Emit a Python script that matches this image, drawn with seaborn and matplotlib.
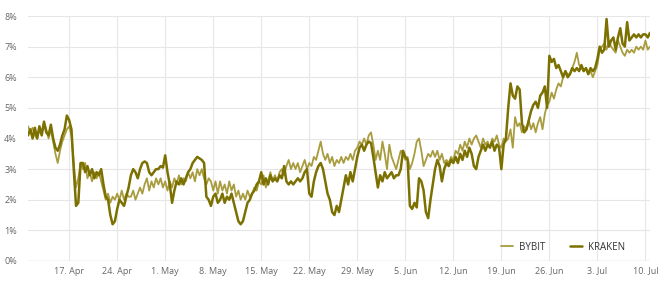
import matplotlib
matplotlib.use("Agg")
import matplotlib.pyplot as plt
import matplotlib.dates as mdates
from matplotlib.ticker import FuncFormatter
import numpy as np
import pandas as pd
import seaborn as sns

start_date = "2023-04-11"
step = "8h"

bybit = [
    4.4, 4.2, 4.35, 4.1, 4.0, 4.3, 4.2, 4.5, 4.3, 4.0, 4.3, 3.9,
    3.5, 3.2, 3.6, 3.9, 4.1, 4.3, 4.4, 4.1, 3.2, 2.4, 2.7, 3.2,
    3.0, 3.2, 2.7, 2.9, 2.6, 2.9, 2.7, 2.9, 2.6, 2.3, 2.0, 2.2,
    1.9, 2.1, 2.0, 2.2, 2.0, 2.3, 2.0, 2.2, 2.1, 2.1, 2.3, 2.0,
    2.2, 2.4, 2.2, 2.5, 2.7, 2.3, 2.6, 2.4, 2.7, 2.5, 2.7, 2.4,
    2.6, 2.3, 2.6, 2.4, 2.7, 2.5, 2.8, 2.5, 2.7, 2.6, 2.9, 2.7,
    2.9, 2.6, 3.0, 2.8, 3.0, 2.7, 2.5, 2.7, 2.6, 2.3, 2.6, 2.2,
    2.6, 2.3, 2.5, 2.2, 2.6, 2.3, 2.5, 2.1, 2.3, 2.0, 2.2, 2.0,
    2.3, 2.1, 2.2, 2.4, 2.3, 2.6, 2.5, 2.8, 2.4, 2.6, 2.9, 2.6,
    2.8, 2.6, 2.9, 3.0, 2.8, 3.1, 3.3, 3.0, 3.2, 3.0, 3.2, 2.9,
    3.1, 3.3, 3.0, 3.2, 3.1, 3.4, 3.3, 3.6, 3.9, 3.5, 3.3, 3.5,
    3.2, 3.4, 3.1, 3.3, 3.2, 3.4, 3.2, 3.4, 3.3, 3.5, 3.3, 3.6,
    3.7, 3.9, 3.8, 4.0, 3.8, 4.1, 4.2, 3.8, 3.3, 3.6, 3.3, 3.9,
    3.5, 3.0, 3.8, 3.4, 3.2, 3.0, 3.3, 3.6, 3.5, 3.3, 3.4, 3.0,
    3.2, 3.5, 3.9, 4.0, 3.6, 3.1, 3.3, 3.5, 3.4, 3.6, 3.4, 3.6,
    3.3, 3.5, 3.2, 3.3, 3.2, 3.4, 3.3, 3.6, 3.5, 3.8, 3.6, 3.9,
    3.7, 4.0, 3.8, 4.0, 4.1, 3.9, 3.7, 4.0, 3.8, 3.9, 3.7, 4.0,
    3.9, 4.1, 3.8, 3.7, 4.0, 3.9, 4.0, 4.3, 3.7, 4.7, 4.4, 4.5,
    4.2, 4.4, 4.3, 4.6, 4.3, 4.5, 4.2, 4.5, 4.7, 4.3, 4.8, 5.1,
    5.2, 5.5, 5.3, 5.6, 5.8, 5.7, 6.0, 6.2, 6.1, 6.1, 6.3, 6.5,
    6.8, 6.4, 6.3, 6.2, 6.3, 6.1, 6.2, 6.0, 6.2, 6.4, 6.9, 7.0,
    7.1, 6.9, 7.2, 7.0, 6.9, 6.8, 7.2, 7.0, 6.8, 6.7, 6.9, 6.8,
    6.9, 6.8, 7.0, 6.9, 7.0, 6.9, 7.2, 6.9, 7.0,
]

kraken = [
    4.1, 4.3, 4.0, 4.35, 4.0, 4.4, 4.1, 4.55, 4.2, 4.1, 4.45, 4.0,
    3.7, 3.6, 3.8, 4.1, 4.3, 4.75, 4.6, 4.3, 3.0, 1.8, 1.9, 3.2,
    3.2, 2.9, 3.1, 2.8, 3.0, 2.7, 2.9, 2.8, 3.0, 2.5, 2.1, 2.0,
    1.5, 1.2, 1.3, 1.7, 2.0, 1.9, 1.8, 2.1, 2.4, 2.8, 3.0, 2.9,
    2.7, 3.0, 3.2, 3.25, 3.2, 2.9, 2.8, 2.9, 3.0, 3.0, 3.1, 3.05,
    3.45, 2.9, 2.5, 1.9, 2.3, 2.6, 2.5, 2.7, 2.5, 2.7, 2.9, 3.0,
    3.2, 3.3, 3.4, 3.35, 3.3, 3.2, 2.1, 2.0, 1.8, 2.1, 2.2, 1.9,
    2.0, 2.2, 1.9, 2.1, 2.0, 2.2, 1.9, 1.6, 1.3, 1.2, 1.3, 1.6,
    1.9, 2.0, 2.2, 2.3, 2.5, 2.6, 2.9, 2.5, 2.7, 2.5, 2.8, 2.6,
    2.7, 2.6, 2.8, 2.7, 3.1, 2.6, 2.5, 2.6, 2.5, 2.6, 2.7, 2.6,
    2.7, 2.9, 3.0, 2.2, 2.1, 2.6, 2.9, 3.1, 3.2, 3.0, 2.6, 2.2,
    2.0, 1.6, 1.5, 1.8, 1.6, 2.0, 2.4, 2.8, 2.5, 2.9, 2.6, 3.0,
    3.4, 3.7, 3.8, 3.6, 3.8, 3.9, 3.85, 3.4, 2.9, 2.4, 2.8, 2.6,
    2.9, 2.7, 2.8, 2.9, 2.7, 2.8, 2.8, 3.0, 3.6, 3.4, 3.3, 1.8,
    1.7, 1.9, 1.75, 2.7, 2.6, 2.3, 1.6, 1.4, 2.0, 2.5, 3.0, 3.3,
    3.1, 2.6, 3.0, 3.2, 3.1, 3.3, 3.2, 3.4, 3.2, 3.5, 3.3, 3.6,
    3.4, 3.7, 3.5, 3.1, 3.0, 3.4, 3.6, 3.8, 3.6, 3.8, 3.7, 3.9,
    3.6, 3.8, 3.7, 3.0, 3.8, 4.0, 5.0, 5.8, 5.4, 5.3, 5.7, 5.6,
    4.5, 4.2, 4.3, 4.6, 4.9, 5.1, 5.2, 5.0, 5.4, 5.5, 5.7, 5.0,
    6.7, 6.5, 6.6, 6.3, 6.4, 6.2, 6.0, 6.2, 6.0, 6.1, 6.3, 6.2,
    6.3, 6.2, 6.4, 6.2, 6.3, 6.1, 6.3, 6.2, 6.3, 6.6, 7.0, 6.8,
    6.9, 7.9, 7.0, 7.2, 7.3, 6.9, 7.3, 7.6, 7.1, 7.0, 7.8, 7.2,
    7.3, 7.4, 7.3, 7.4, 7.3, 7.4, 7.4, 7.3, 7.45,
]

series_names = ["BYBIT", "KRAKEN"]
colors = {"BYBIT": "#a89c3f", "KRAKEN": "#7b7000"}
y_ticks = [0, 1, 2, 3, 4, 5, 6, 7, 8]

n = min(len(bybit), len(kraken))
dates = pd.date_range(start_date, periods=n, freq=step)
df = pd.DataFrame({
    "date": np.concatenate([dates, dates]),
    "value": bybit[:n] + kraken[:n],
    "exchange": ["BYBIT"] * n + ["KRAKEN"] * n,
})

sns.set_style("white")
plt.rcParams["font.family"] = ["Open Sans", "DejaVu Sans"]

fig = plt.figure(figsize=(6.6, 2.84), dpi=100)
ax = fig.add_axes([28 / 660, 1 - 261 / 284, 622 / 660, 245 / 284])

sns.lineplot(data=df, x="date", y="value", hue="exchange", hue_order=series_names,
             palette=colors, ax=ax, legend=False, estimator=None)
for line, lw in zip(ax.lines, [1.3, 1.8]):
    line.set_linewidth(lw)

ax.set_ylim(0, 8)
ax.set_xlim(dates[0], dates[-1])
ax.set_yticks(y_ticks)
ax.yaxis.set_major_formatter(FuncFormatter(lambda v, p: f"{int(v)}%"))
ax.xaxis.set_major_locator(mdates.WeekdayLocator(byweekday=mdates.MO))
ax.xaxis.set_major_formatter(mdates.DateFormatter("%-d. %b"))

ax.grid(True, color="#e6e6e6", linewidth=0.8)
ax.set_axisbelow(True)
for s in ax.spines.values():
    s.set_visible(False)
ax.axhline(0, color="#ccd6eb", linewidth=1.0, zorder=0)
ax.tick_params(axis="both", length=0, labelsize=6.5, colors="#666666")
ax.tick_params(axis="x", pad=4)
ax.tick_params(axis="y", pad=8)
ax.set_xlabel("")
ax.set_ylabel("")

from matplotlib.lines import Line2D
handles = [Line2D([0], [0], color=colors[s], lw=lw) for s, lw in zip(series_names, [1.3, 1.8])]
leg = fig.legend(handles, series_names, loc="center", bbox_to_anchor=(563 / 660, 1 - 247 / 284),
                 ncol=2, frameon=False, fontsize=7, handlelength=1.3, handletextpad=0.6,
                 columnspacing=2.5)
for t in leg.get_texts():
    t.set_color("#333333")

fig.savefig("out.png", dpi=100)
